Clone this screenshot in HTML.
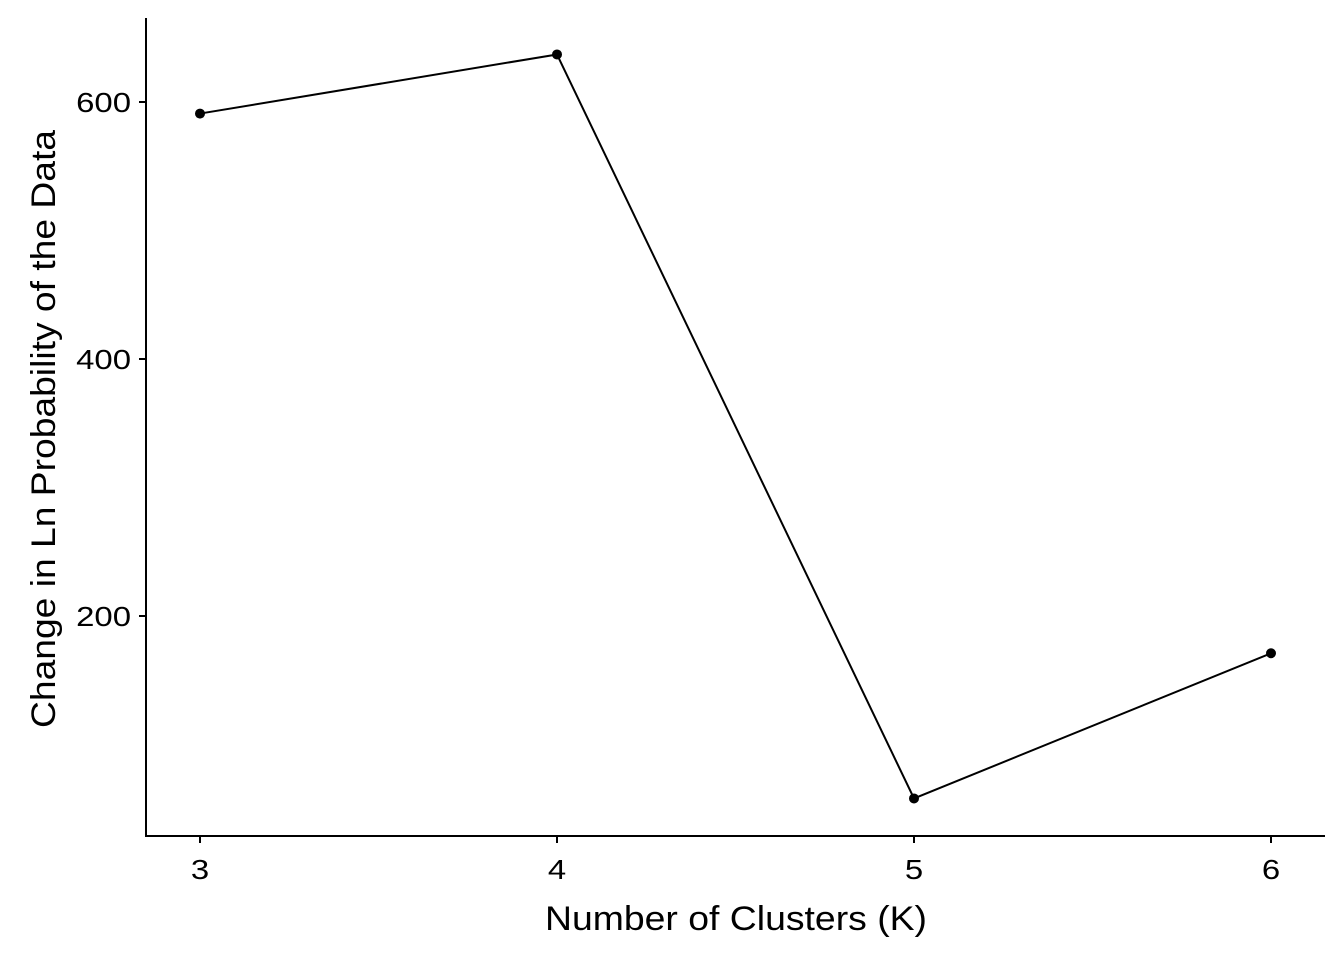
<!DOCTYPE html>
<html><head><meta charset="utf-8"><style>
html,body{margin:0;padding:0;background:#fff;}
svg{display:block;font-family:"Liberation Sans",Arial,sans-serif;}
</style></head><body>
<svg id="chart" width="1344" height="960" viewBox="0 0 1344 960">
<g id="axes"></g><g id="marks"></g>
<text x="736" y="930" text-anchor="middle" font-size="34" textLength="382" lengthAdjust="spacingAndGlyphs" fill="#000">Number of Clusters (K)</text>
<text transform="translate(55,429) rotate(-90)" text-anchor="middle" font-size="34" textLength="598" lengthAdjust="spacingAndGlyphs" fill="#000">Change in Ln Probability of the Data</text>
</svg>
<script>
const categories = [3, 4, 5, 6];
const values = [591, 637, 58, 171];
const yTicks = [200, 400, 600];
const xTicks = ["3", "4", "5", "6"];

const NS = "http://www.w3.org/2000/svg";
function xs(k){ return 200 + (k - 3) * 357; }
function ys(v){ return 873 - v * 1.285; }
function mk(tag, attrs, parent){
  const e = document.createElementNS(NS, tag);
  for (const k in attrs) e.setAttribute(k, attrs[k]);
  parent.appendChild(e); return e;
}
const axes = document.getElementById('axes');
const marks = document.getElementById('marks');

const ya = mk('line', {x1:146, y1:18, x2:146, y2:837, stroke:'#000', 'stroke-width':2}, axes);


const xa = mk('line', {x1:145, y1:836, x2:1325, y2:836, stroke:'#000', 'stroke-width':2}, axes);



yTicks.forEach(v => {
  const y = ys(v);
  const t = mk('line', {x1:139, y1:y, x2:146, y2:y, stroke:'#000', 'stroke-width':2}, axes);
  
  
  const s = String(v);
  const l = mk('text', {x:131, y:y + 10, 'text-anchor':'end', 'font-size':28, textLength:s.length * 18.3, lengthAdjust:'spacingAndGlyphs', fill:'#000'}, axes);
  l.textContent = s;
  
  
});
categories.forEach((k, i) => {
  const x = xs(k);
  const t = mk('line', {x1:x, y1:836, x2:x, y2:843, stroke:'#000', 'stroke-width':2}, axes);
  
  
  const l = mk('text', {x:x, y:879, 'text-anchor':'middle', 'font-size':28, textLength:xTicks[i].length * 18.3, lengthAdjust:'spacingAndGlyphs', fill:'#000'}, axes);
  l.textContent = xTicks[i];
  
  
});

const pts = categories.map((k, i) => xs(k) + ',' + ys(values[i])).join(' ');
const line = mk('polyline', {points:pts, fill:'none', stroke:'#000', 'stroke-width':2}, marks);


categories.forEach((k, i) => {
  const c = mk('circle', {cx:xs(k), cy:ys(values[i]), r:5, fill:'#000'}, marks);
  
  
});
</script>
</body></html>
